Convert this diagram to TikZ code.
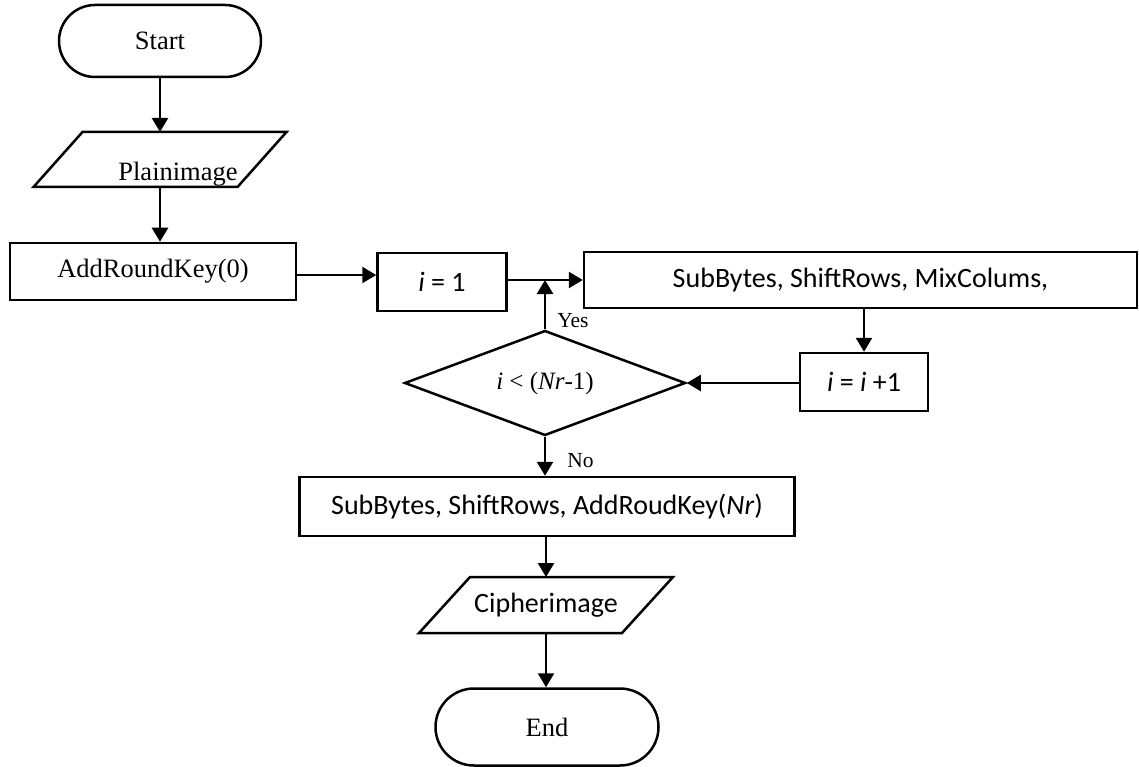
\documentclass[tikz,border=0pt]{standalone}
\usepackage{fontspec}
\setmainfont{Liberation Serif}
\newfontfamily\calfont{Carlito}
\usetikzlibrary{shapes.geometric,shapes.misc,arrows.meta,positioning,calc}

\begin{document}
\begin{tikzpicture}[x=1pt, y=-1pt, line width=2.5pt,
  every node/.style={inner sep=0pt},
  serif/.style={font=\fontsize{26.5}{30}\selectfont},
  cal/.style={font=\calfont\fontsize{28}{32}\selectfont},
  lbl/.style={font=\fontsize{21.5}{24}\selectfont},
  term/.style={draw, rounded rectangle, serif},
  io/.style={rectangle, minimum width=204, outer sep=0pt},
  proc/.style={draw, rectangle},
  flow/.style={-{Triangle[length=14pt,width=16pt]}}]

\useasboundingbox (0,0) rectangle (1139,767);

% === LEFT COLUMN: start and first round key ===
\node[term, minimum width=202, minimum height=72] (start) at (160,41) {Start};
\node[io, minimum height=55,
  label={[serif, xshift=18pt, yshift=-15pt]center:Plainimage}] (plain) at (160,159.5) {};
\draw[line join=miter] ([xshift=24.5]plain.north west) -- ([xshift=24.5]plain.north east)
  -- ([xshift=-24.5]plain.south east) -- ([xshift=-24.5]plain.south west) -- cycle;
\node[proc, serif, minimum width=286, minimum height=57] (ark) at (153,271.5) {AddRoundKey(0)};

% === LOOP ===
\node[proc, cal, minimum width=129, minimum height=58] (init) at (442,282) {\textit{i} = 1};
\node[proc, cal, minimum width=553, minimum height=56] (round) at (860.5,280) {SubBytes, ShiftRows, MixColums,};
\node[proc, cal, minimum width=128, minimum height=58] (incr) at (864,382) {\textit{i} = \textit{i} +1};
\node[draw, diamond, aspect=2.68, minimum width=281, minimum height=105,
  font=\fontsize{25}{28}\selectfont] (test) at (545,383) {\textit{i} < (\textit{Nr}-1)};

% === LAST ROUND and end ===
\node[proc, cal, minimum width=495, minimum height=59] (last) at (547,506.5) {SubBytes, ShiftRows, AddRoudKey(\textit{Nr})};
\node[io, cal, minimum width=203, minimum height=56] (cipher) at (546,605) {Cipherimage};
\draw[line join=miter] ([xshift=25.5]cipher.north west) -- ([xshift=25.5]cipher.north east)
  -- ([xshift=-25.5]cipher.south east) -- ([xshift=-25.5]cipher.south west) -- cycle;
\node[term, minimum width=223, minimum height=77] (stop) at (547,727) {End};

% connectors
\coordinate (arkout) at ([yshift=-3.5pt]ark.east);
\coordinate (join) at (test.north |- round.west);
\draw[flow] (start.south) -- (start.south |- plain.north);
\draw[flow] (plain.south) -- (plain.south |- ark.north);
\draw[flow] (arkout) -- (arkout -| init.west);
\draw[flow] (init.east |- round.west) -- (round.west);
\draw[flow] (test.north) -- node[lbl, pos=0, anchor=south west, xshift=11pt] (yes) {Yes} (join);
\draw[flow] (round.south -| incr.north) -- (incr.north);
\draw[flow] (incr.west |- test.east) -- (test.east);
\draw[flow] (test.south) -- node[lbl, pos=0.8, anchor=base west, xshift=21pt] (no) {No} (test.south |- last.north);
\draw[flow] (last.south -| cipher.north) -- (cipher.north);
\draw[flow] (cipher.south) -- (cipher.south |- stop.north);

\end{tikzpicture}
\end{document}
